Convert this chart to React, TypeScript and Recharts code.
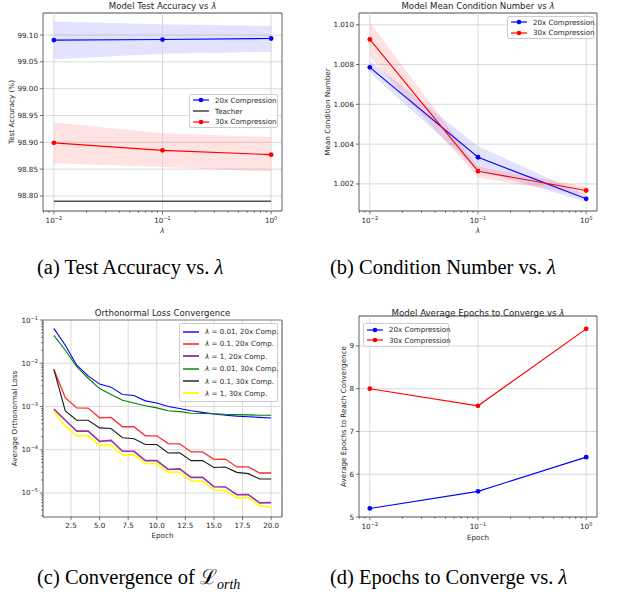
import React from 'react';
import {
  ComposedChart,
  Line,
  Area,
  XAxis,
  YAxis,
  CartesianGrid,
  ReferenceLine,
  ReferenceArea,
} from 'recharts';

// ---- shared x values (lambda) ----
const LAMBDAS = [0.01, 0.1, 1];
const LOG_X_MAJOR = [0.01, 0.1, 1];
const LOG_X_DOMAIN = [Math.pow(10, -2.1), Math.pow(10, 0.1)];

// ---- (a) test accuracy ----
const ACC_20X = [99.0905, 99.0915, 99.0935];
const ACC_20X_LO = [99.055, 99.065, 99.069];
const ACC_20X_HI = [99.125, 99.12, 99.117];
const ACC_30X = [98.899, 98.885, 98.877];
const ACC_30X_LO = [98.861, 98.854, 98.845];
const ACC_30X_HI = [98.937, 98.917, 98.91];
const TEACHER_ACC = 98.79;
const ACC_TICKS = [98.8, 98.85, 98.9, 98.95, 99.0, 99.05, 99.1];

// ---- (b) mean condition number ----
const COND_20X = [1.00786, 1.00334, 1.00125];
const COND_20X_LO = [1.0076, 1.0027, 1.0011];
const COND_20X_HI = [1.0082, 1.0039, 1.00143];
const COND_30X = [1.00926, 1.00264, 1.00167];
const COND_30X_LO = [1.00838, 1.00232, 1.00145];
const COND_30X_HI = [1.01013, 1.00287, 1.00187];
const COND_TICKS = [1.002, 1.004, 1.006, 1.008, 1.01];

// ---- (c) orthonormal loss per epoch ----
const EPOCHS = [1, 2, 3, 4, 5, 6, 7, 8, 9, 10, 11, 12, 13, 14, 15, 16, 17, 18, 19, 20];
const LOSS_L001_20X = [0.064, 0.026, 0.009, 0.0051, 0.0033, 0.0028, 0.0019, 0.0018, 0.00135, 0.0012, 0.001, 0.0009, 0.0008, 0.00073, 0.00067, 0.00063, 0.0006, 0.00058, 0.00056, 0.00054];
const LOSS_L01_20X = [0.0072, 0.0016, 0.00093, 0.00092, 0.00055, 0.00056, 0.00034, 0.00034, 0.00021, 0.00021, 0.000139, 0.000137, 0.000089, 0.000089, 0.00006, 0.000061, 0.00004, 0.00004, 0.000029, 0.000029];
const LOSS_L1_20X = [0.00087, 0.00048, 0.00027, 0.00027, 0.000156, 0.000165, 0.000092, 0.000092, 0.000056, 0.000056, 0.000035, 0.000036, 0.000023, 0.000023, 0.000014, 0.0000138, 0.0000091, 0.0000092, 0.0000059, 0.000006];
const LOSS_L001_30X = [0.044, 0.02, 0.0084, 0.0045, 0.0026, 0.0019, 0.0014, 0.0012, 0.00104, 0.00093, 0.0008, 0.00076, 0.0007, 0.00069, 0.00068, 0.00066, 0.00065, 0.00064, 0.00063, 0.00063];
const LOSS_L01_30X = [0.0072, 0.00079, 0.00048, 0.00048, 0.00032, 0.00031, 0.00019, 0.00018, 0.000132, 0.000132, 0.000084, 0.000085, 0.000056, 0.000056, 0.000039, 0.00004, 0.00003, 0.000028, 0.000021, 0.000021];
const LOSS_L1_30X = [0.00079, 0.00035, 0.00021, 0.00021, 0.000126, 0.000128, 0.000076, 0.000076, 0.000048, 0.000048, 0.00003, 0.0000305, 0.000019, 0.000019, 0.0000117, 0.0000115, 0.0000078, 0.0000078, 0.0000051, 0.0000047];
const EPOCH_TICKS = [2.5, 5, 7.5, 10, 12.5, 15, 17.5, 20];
const LOSS_MAJOR = [1e-5, 1e-4, 1e-3, 1e-2, 1e-1];
const LOSS_DOMAIN = [Math.pow(10, -5.555), 0.1];

// ---- (d) epochs to converge ----
const CONV_20X = [5.2, 5.6, 6.4];
const CONV_30X = [8.0, 7.6, 9.4];
const CONV_TICKS = [5, 6, 7, 8, 9];

// ---- style ----
const FONT = '"DejaVu Sans", sans-serif';
const TXT = '#262626';
const AXIS_C = '#3a3a3a';
const GRID_C = '#d0d0d0';
const BLUE = '#0000ff';
const RED = '#ff0000';
const TICK_FS = 7.2;
const LABEL_FS = 7.2;

// minor ticks at 2..9 x 10^k
const withMinors = (majors: number[], lo: number, hi: number) => {
  const out: number[] = [];
  const e0 = Math.floor(Math.log10(lo));
  const e1 = Math.ceil(Math.log10(hi));
  for (let e = e0; e <= e1; e++) {
    for (let m = 1; m <= 9; m++) {
      const v = m * Math.pow(10, e);
      if (v >= lo && v <= hi) out.push(v);
    }
  }
  return out.concat(majors.filter((m) => !out.some((o) => Math.abs(o - m) / m < 1e-9)));
};
const LOG_X_TICKS = withMinors(LOG_X_MAJOR, LOG_X_DOMAIN[0], LOG_X_DOMAIN[1]);
const LOSS_TICKS = withMinors(LOSS_MAJOR, LOSS_DOMAIN[0], LOSS_DOMAIN[1]);

const isMajor = (v: number) => {
  const l = Math.log10(v);
  return Math.abs(l - Math.round(l)) < 1e-6;
};
const sup = (e: number) => (e < 0 ? `\u2212${-e}` : `${e}`);

const LogXTick = (p: any) => {
  const { x, y, payload } = p;
  const major = isMajor(payload.value);
  return (
    <g>
      <line x1={x} x2={x} y1={y} y2={y + (major ? 3.2 : 1.8)} stroke={AXIS_C} strokeWidth={0.7} />
      {major && (
        <text x={x} y={y + 11.5} textAnchor="middle" fontFamily={FONT} fontSize={TICK_FS} fill={TXT}>
          10
          <tspan dy={-3} fontSize={5}>
            {sup(Math.round(Math.log10(payload.value)))}
          </tspan>
        </text>
      )}
    </g>
  );
};

const LogYTick = (p: any) => {
  const { x, y, payload } = p;
  const major = isMajor(payload.value);
  return (
    <g>
      <line x1={x - (major ? 3.2 : 1.8)} x2={x} y1={y} y2={y} stroke={AXIS_C} strokeWidth={0.7} />
      {major && (
        <text x={x - 5} y={y + 2.5} textAnchor="end" fontFamily={FONT} fontSize={TICK_FS} fill={TXT}>
          10
          <tspan dy={-3} fontSize={5}>
            {sup(Math.round(Math.log10(payload.value)))}
          </tspan>
        </text>
      )}
    </g>
  );
};

const NumYTick = (p: any) => {
  const { x, y, payload, digits } = p;
  return (
    <g>
      <line x1={x - 3.2} x2={x} y1={y} y2={y} stroke={AXIS_C} strokeWidth={0.7} />
      <text x={x - 5} y={y + 2.5} textAnchor="end" fontFamily={FONT} fontSize={TICK_FS} fill={TXT}>
        {payload.value.toFixed(digits)}
      </text>
    </g>
  );
};

const NumXTick = (p: any) => {
  const { x, y, payload } = p;
  return (
    <g>
      <line x1={x} x2={x} y1={y} y2={y + 3.2} stroke={AXIS_C} strokeWidth={0.7} />
      <text x={x} y={y + 11} textAnchor="middle" fontFamily={FONT} fontSize={TICK_FS} fill={TXT}>
        {payload.value.toFixed(1)}
      </text>
    </g>
  );
};

const yLabel = (value: string, offset: number) => ({
  value,
  angle: -90,
  position: 'insideLeft' as const,
  offset,
  fontSize: LABEL_FS,
  fontFamily: FONT,
  fill: TXT,
  style: { textAnchor: 'middle' },
});

const xLabel = (value: string, offset: number, italic = false) => ({
  value,
  position: 'insideBottom' as const,
  offset,
  fontSize: LABEL_FS,
  fontFamily: FONT,
  fill: TXT,
  fontStyle: italic ? 'italic' : 'normal',
});

const dot = (c: string) => ({ r: 2.4, fill: c, stroke: c, strokeWidth: 0 });

type LegendItem = { label: React.ReactNode; color: string; marker?: boolean; width?: number };

const LegendBox = ({ items, left, top, width, height, rowH }: { items: LegendItem[]; left: number; top: number; width: number; height: number; rowH: number }) => (
  <div
    style={{
      position: 'absolute',
      left,
      top,
      width,
      height,
      boxSizing: 'border-box',
      background: 'rgba(255,255,255,0.85)',
      border: '0.8px solid #cccccc',
      borderRadius: 2,
      display: 'flex',
      flexDirection: 'column',
      justifyContent: 'center',
      fontFamily: FONT,
      fontSize: 7.1,
      color: TXT,
    }}
  >
    {items.map((it, i) => (
      <div key={i} style={{ display: 'flex', alignItems: 'center', height: rowH, whiteSpace: 'nowrap' }}>
        <svg width={16} height={6} style={{ marginLeft: 3, flex: 'none' }}>
          <line x1={0} x2={16} y1={3} y2={3} stroke={it.color} strokeWidth={it.width ?? 1.2} />
          {it.marker && <circle cx={8} cy={3} r={2.3} fill={it.color} />}
        </svg>
        <span style={{ marginLeft: 6 }}>{it.label}</span>
      </div>
    ))}
  </div>
);

const Title = ({ cx, cy, children }: { cx: number; cy: number; children: React.ReactNode }) => (
  <div
    style={{
      position: 'absolute',
      left: cx - 150,
      top: cy - 5,
      width: 300,
      height: 10,
      lineHeight: '10px',
      textAlign: 'center',
      fontFamily: FONT,
      fontSize: 8.6,
      color: TXT,
      whiteSpace: 'nowrap',
    }}
  >
    {children}
  </div>
);

const Caption = ({ left, top, children }: { left: number; top: number; children: React.ReactNode }) => (
  <div
    style={{
      position: 'absolute',
      left,
      top,
      lineHeight: '22px',
      fontFamily: '"Liberation Serif", "DejaVu Serif", serif',
      fontSize: 20.5,
      color: '#000',
      whiteSpace: 'nowrap',
    }}
  >
    {children}
  </div>
);

const accData = LAMBDAS.map((lam, i) => ({
  lam,
  a20: ACC_20X[i],
  b20: [ACC_20X_LO[i], ACC_20X_HI[i]],
  a30: ACC_30X[i],
  b30: [ACC_30X_LO[i], ACC_30X_HI[i]],
  teacher: TEACHER_ACC,
}));

const condData = LAMBDAS.map((lam, i) => ({
  lam,
  c20: COND_20X[i],
  b20: [COND_20X_LO[i], COND_20X_HI[i]],
  c30: COND_30X[i],
  b30: [COND_30X_LO[i], COND_30X_HI[i]],
}));

const lossData = EPOCHS.map((epoch, i) => ({
  epoch,
  l001_20: LOSS_L001_20X[i],
  l01_20: LOSS_L01_20X[i],
  l1_20: LOSS_L1_20X[i],
  l001_30: LOSS_L001_30X[i],
  l01_30: LOSS_L01_30X[i],
  l1_30: LOSS_L1_30X[i],
}));

const convData = LAMBDAS.map((lam, i) => ({ lam, e20: CONV_20X[i], e30: CONV_30X[i] }));

const ACC_DOMAIN = [98.772, 99.141];
const COND_DOMAIN = [1.00064, 1.01059];
const CONV_DOMAIN = [5, 9.7];

const logXAxis = (label: string, italic: boolean, height: number, offset: number) => (
  <XAxis
    dataKey="lam"
    type="number"
    scale="log"
    domain={LOG_X_DOMAIN}
    allowDataOverflow
    ticks={LOG_X_TICKS}
    interval={0}
    tickSize={0}
    tickMargin={0}
    tickLine={false}
    axisLine={false}
    height={height}
    tick={LogXTick}
    label={xLabel(label, offset, italic)}
  />
);

const lamGrid = LOG_X_MAJOR.map((v) => (
  <ReferenceLine key={`g${v}`} x={v} stroke={GRID_C} strokeWidth={0.8} />
));

const PanelA = () => (
  <div style={{ position: 'absolute', left: 0, top: 0 }}>
    <ComposedChart width={300} height={240} data={accData} margin={{ top: 13, right: 18, left: 0, bottom: 0 }}>
      <CartesianGrid vertical={false} stroke={GRID_C} strokeWidth={0.8} />
      {lamGrid}
      {logXAxis('λ', true, 29, 7)}
      <YAxis
        type="number"
        domain={ACC_DOMAIN}
        allowDataOverflow
        ticks={ACC_TICKS}
        interval={0}
        width={43}
        tickSize={0}
        tickMargin={0}
        tickLine={false}
        axisLine={false}
        tick={(p: any) => <NumYTick {...p} digits={2} />}
        label={yLabel('Test Accuracy (%)', 11)}
      />
      <Area dataKey="b20" type="linear" stroke="none" fill={BLUE} fillOpacity={0.11} isAnimationActive={false} />
      <Area dataKey="b30" type="linear" stroke="none" fill={RED} fillOpacity={0.11} isAnimationActive={false} />
      <Line dataKey="teacher" type="linear" stroke="#505050" strokeWidth={1.5} dot={false} activeDot={false} isAnimationActive={false} />
      <Line dataKey="a20" type="linear" stroke={BLUE} strokeWidth={1.1} dot={dot(BLUE)} activeDot={false} isAnimationActive={false} />
      <Line dataKey="a30" type="linear" stroke={RED} strokeWidth={1.1} dot={dot(RED)} activeDot={false} isAnimationActive={false} />
      <ReferenceArea x1={LOG_X_DOMAIN[0]} x2={LOG_X_DOMAIN[1]} y1={ACC_DOMAIN[0]} y2={ACC_DOMAIN[1]} fill="none" stroke={AXIS_C} strokeWidth={0.8} ifOverflow="visible" />
    </ComposedChart>
  </div>
);

const PanelB = () => (
  <div style={{ position: 'absolute', left: 310, top: 0 }}>
    <ComposedChart width={300} height={240} data={condData} margin={{ top: 13, right: 13, left: 0, bottom: 0 }}>
      <CartesianGrid vertical={false} stroke={GRID_C} strokeWidth={0.8} />
      {lamGrid}
      {logXAxis('λ', true, 29, 7)}
      <YAxis
        type="number"
        domain={COND_DOMAIN}
        allowDataOverflow
        ticks={COND_TICKS}
        interval={0}
        width={49}
        tickSize={0}
        tickMargin={0}
        tickLine={false}
        axisLine={false}
        tick={(p: any) => <NumYTick {...p} digits={3} />}
        label={yLabel('Mean Condition Number', 17)}
      />
      <Area dataKey="b20" type="linear" stroke="none" fill={BLUE} fillOpacity={0.11} isAnimationActive={false} />
      <Area dataKey="b30" type="linear" stroke="none" fill={RED} fillOpacity={0.11} isAnimationActive={false} />
      <Line dataKey="c20" type="linear" stroke={BLUE} strokeWidth={1.1} dot={dot(BLUE)} activeDot={false} isAnimationActive={false} />
      <Line dataKey="c30" type="linear" stroke={RED} strokeWidth={1.1} dot={dot(RED)} activeDot={false} isAnimationActive={false} />
      <ReferenceArea x1={LOG_X_DOMAIN[0]} x2={LOG_X_DOMAIN[1]} y1={COND_DOMAIN[0]} y2={COND_DOMAIN[1]} fill="none" stroke={AXIS_C} strokeWidth={0.8} ifOverflow="visible" />
    </ComposedChart>
  </div>
);

const LOSS_SERIES = [
  { key: 'l001_20', color: '#0000ff', width: 1.1 },
  { key: 'l01_20', color: '#ff2a2a', width: 1.3 },
  { key: 'l1_20', color: '#9932a8', width: 1.6 },
  { key: 'l001_30', color: '#008000', width: 1.1 },
  { key: 'l01_30', color: '#1a1a1a', width: 1.1 },
  { key: 'l1_30', color: '#ffff00', width: 1.6 },
];
const LOSS_LABELS = ['0.01, 20x Comp.', '0.1, 20x Comp.', '1, 20x Comp.', '0.01, 30x Comp.', '0.1, 30x Comp.', '1, 30x Comp.'];

const PanelC = () => (
  <div style={{ position: 'absolute', left: 0, top: 300 }}>
    <ComposedChart width={300} height={245} data={lossData} margin={{ top: 20, right: 18, left: 0, bottom: 0 }}>
      <CartesianGrid horizontal={false} stroke={GRID_C} strokeWidth={0.8} />
      {LOSS_MAJOR.map((v) => (
        <ReferenceLine key={`h${v}`} y={v} stroke={GRID_C} strokeWidth={0.8} />
      ))}
      <XAxis
        dataKey="epoch"
        type="number"
        domain={[0.05, 20.95]}
        allowDataOverflow
        ticks={EPOCH_TICKS}
        interval={0}
        tickSize={0}
        tickMargin={0}
        tickLine={false}
        axisLine={false}
        height={28}
        tick={NumXTick}
        label={xLabel('Epoch', 7)}
      />
      <YAxis
        type="number"
        scale="log"
        domain={LOSS_DOMAIN}
        allowDataOverflow
        ticks={LOSS_TICKS}
        interval={0}
        width={43}
        tickSize={0}
        tickMargin={0}
        tickLine={false}
        axisLine={false}
        tick={LogYTick}
        label={yLabel('Average Orthonormal Loss', 14)}
      />
      {LOSS_SERIES.map((s) => (
        <Line key={s.key} dataKey={s.key} type="linear" stroke={s.color} strokeWidth={s.width} dot={false} activeDot={false} isAnimationActive={false} />
      ))}
      <ReferenceArea x1={0.05} x2={20.95} y1={LOSS_DOMAIN[0]} y2={LOSS_DOMAIN[1]} fill="none" stroke={AXIS_C} strokeWidth={0.8} ifOverflow="visible" />
    </ComposedChart>
  </div>
);

const PanelD = () => (
  <div style={{ position: 'absolute', left: 310, top: 300 }}>
    <ComposedChart width={300} height={245} data={convData} margin={{ top: 16, right: 13, left: 0, bottom: 0 }}>
      <CartesianGrid vertical={false} stroke={GRID_C} strokeWidth={0.8} />
      {lamGrid}
      {logXAxis('Epoch', false, 28, 5)}
      <YAxis
        type="number"
        domain={CONV_DOMAIN}
        allowDataOverflow
        ticks={CONV_TICKS}
        interval={0}
        width={49}
        tickSize={0}
        tickMargin={0}
        tickLine={false}
        axisLine={false}
        tick={(p: any) => <NumYTick {...p} digits={0} />}
        label={yLabel('Average Epochs to Reach Convergence', 33)}
      />
      <Line dataKey="e20" type="linear" stroke={BLUE} strokeWidth={1.1} dot={dot(BLUE)} activeDot={false} isAnimationActive={false} />
      <Line dataKey="e30" type="linear" stroke={RED} strokeWidth={1.1} dot={dot(RED)} activeDot={false} isAnimationActive={false} />
      <ReferenceArea x1={LOG_X_DOMAIN[0]} x2={LOG_X_DOMAIN[1]} y1={CONV_DOMAIN[0]} y2={CONV_DOMAIN[1]} fill="none" stroke={AXIS_C} strokeWidth={0.8} ifOverflow="visible" />
    </ComposedChart>
  </div>
);

export default function App() {
  return (
    <div style={{ position: 'absolute', left: 0, top: 0, width: 619, height: 596, background: '#fff', overflow: 'hidden' }}>
      <PanelA />
      <PanelB />
      <PanelC />
      <PanelD />

      <Title cx={162.5} cy={6}>
        Model Test Accuracy vs <i>λ</i>
      </Title>
      <Title cx={478} cy={6}>
        Model Mean Condition Number vs <i>λ</i>
      </Title>
      <Title cx={162.5} cy={313}>
        Orthonormal Loss Convergence
      </Title>
      <Title cx={478} cy={313}>
        Model Average Epochs to Converge vs <i>λ</i>
      </Title>

      <LegendBox
        left={189}
        top={94}
        width={89}
        height={34}
        rowH={10.7}
        items={[
          { label: '20x Compression', color: BLUE, marker: true },
          { label: 'Teacher', color: '#505050', width: 1.6 },
          { label: '30x Compression', color: RED, marker: true },
        ]}
      />
      <LegendBox
        left={507}
        top={16}
        width={87}
        height={23}
        rowH={10.5}
        items={[
          { label: '20x Compression', color: BLUE, marker: true },
          { label: '30x Compression', color: RED, marker: true },
        ]}
      />
      <LegendBox
        left={179}
        top={323}
        width={99}
        height={79}
        rowH={12.4}
        items={LOSS_SERIES.map((s, i) => ({
          label: (
            <>
              <i>λ</i> = {LOSS_LABELS[i]}
            </>
          ),
          color: s.color,
          width: s.width + 0.3,
        }))}
      />
      <LegendBox
        left={363}
        top={323}
        width={86}
        height={24}
        rowH={10.7}
        items={[
          { label: '20x Compression', color: BLUE, marker: true },
          { label: '30x Compression', color: RED, marker: true },
        ]}
      />

      <Caption left={37} top={256}>
        (a) Test Accuracy vs. <i>λ</i>
      </Caption>
      <Caption left={330} top={256}>
        (b) Condition Number vs. <i>λ</i>
      </Caption>
      <Caption left={37} top={566}>
        (c) Convergence of <span style={{ fontFamily: '"DejaVu Serif", serif' }}>ℒ</span>
        <sub style={{ fontStyle: 'italic', fontSize: 14 }}>orth</sub>
      </Caption>
      <Caption left={330} top={566}>
        (d) Epochs to Converge vs. <i>λ</i>
      </Caption>
    </div>
  );
}
